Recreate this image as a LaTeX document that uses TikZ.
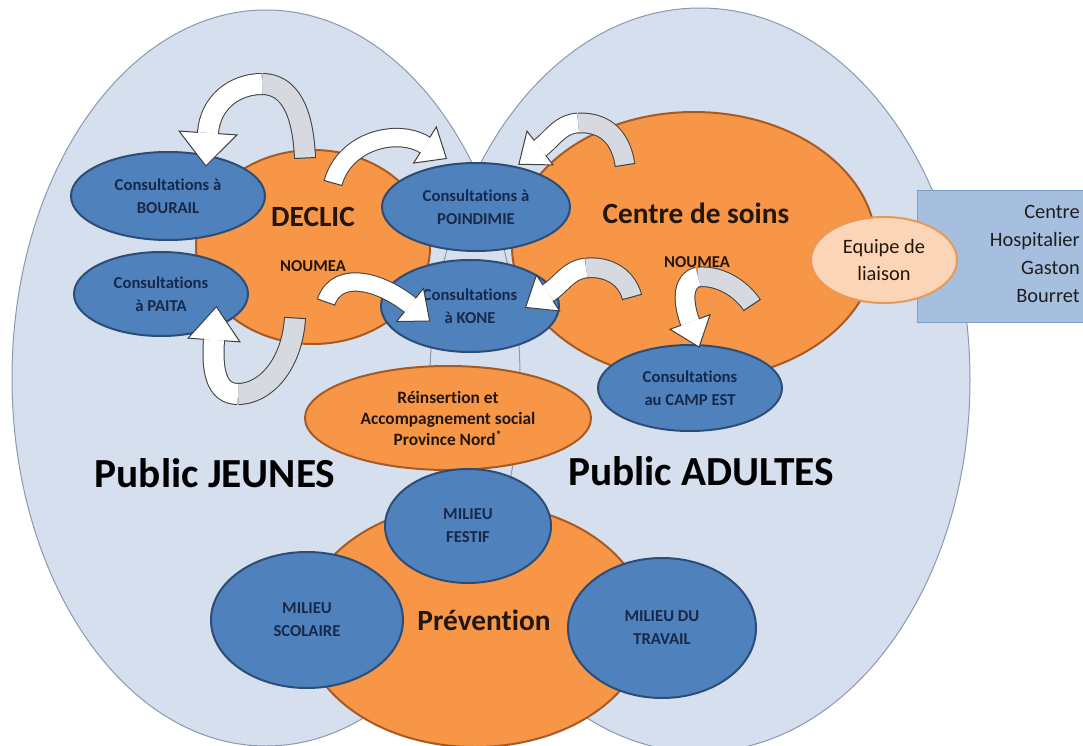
\documentclass[tikz,border=0pt]{standalone}
\usepackage{fontspec}
\setmainfont{Carlito}[Ligatures=NoCommon]
\usetikzlibrary{shapes.geometric,calc}
\definecolor{bigfill}{HTML}{D5DFEE}
\definecolor{bigline}{HTML}{8A99B2}
\definecolor{orfill}{HTML}{F79646}
\definecolor{orline}{HTML}{A85A26}
\definecolor{blfill}{HTML}{4F81BD}
\definecolor{blline}{HTML}{2C4D75}
\definecolor{bltext}{HTML}{17294A}
\definecolor{ortext}{HTML}{23160C}
\definecolor{eqfill}{HTML}{FBD5B5}
\definecolor{eqline}{HTML}{E59A5C}
\definecolor{boxfill}{HTML}{A7BFDE}
\definecolor{boxline}{HTML}{7E9CC8}
\definecolor{boxtext}{HTML}{1E1E1E}
\definecolor{argray}{HTML}{D6DAE0}
\definecolor{arline}{HTML}{3F3F3F}
\newcommand{\myhead}[5]{%
  \fill[white] ($(#1)!#3!90:(#2)$) -- ($(#1)!-#4!(#2)$) -- ($(#1)!#3!-90:(#2)$) -- cycle;
  \draw[headline] ($(#1)!#5!-90:(#2)$) -- ($(#1)!#3!-90:(#2)$) -- ($(#1)!-#4!(#2)$) -- ($(#1)!#3!90:(#2)$) -- ($(#1)!#5!90:(#2)$);}
\newcommand{\mytail}[3]{%
  \draw[headline] ($(#1)!#3!90:(#2)$) -- ($(#1)!#3!-90:(#2)$);}
\begin{document}
\begin{tikzpicture}[x=0.75pt,y=-0.75pt,
  bigell/.style={ellipse, inner sep=0pt, outer sep=0pt, fill=bigfill},
  bigout/.style={draw=bigline, line width=0.75pt},
  orell/.style={ellipse, inner sep=0pt, draw=orline, line width=1.5pt, fill=orfill, text=ortext, align=center, font=\fontsize{13}{15.75}\selectfont\bfseries},
  blell/.style={ellipse, inner sep=0pt, draw=blline, line width=1.5pt, fill=blfill, text=bltext, align=center, font=\fontsize{12.5}{17.25}\selectfont\bfseries},
  sz/.style 2 args={minimum width=#1*1.5pt, minimum height=#2*1.5pt},
  bigtitle/.style={font=\fontsize{31}{36}\selectfont\bfseries, text=black, inner sep=0pt},
  midtitle/.style={font=\fontsize{22}{26}\selectfont\bfseries, text=ortext, inner sep=0pt},
  smalltitle/.style={font=\fontsize{12.5}{15}\selectfont\bfseries, text=ortext, inner sep=0pt},
  backband/.style={draw=arline, line width=0.75pt, double=argray},
  frontband/.style={draw=arline, line width=0.75pt, double=white},
  headline/.style={draw=arline, line width=0.75pt, line join=miter}
]
\useasboundingbox (0,0) rectangle (1083,746);
\fill[white] (0,0) rectangle (1083,746);

% big publics
\node[bigell, sz={254}{368}] (jeunes) at (266,378) {};
\node[bigell, sz={270}{372}] (adultes) at (700,380) {};
\draw[bigout] (266,378) ellipse [x radius=190.5pt, y radius=276pt];
\draw[bigout] (700,380) ellipse [x radius=202.5pt, y radius=279pt];

% hospital box
\node[draw=boxline, fill=boxfill, line width=0.75pt, minimum width=127.5pt, minimum height=99pt, anchor=north west, inner sep=0pt] (chgb) at (917,190) {};
\node[anchor=east, align=right, font=\fontsize{15.3}{20.8}\selectfont, text=boxtext, inner sep=0pt] (chgbtext) at (1080,254) {Centre\\Hospitalier\\Gaston\\Bourret};

% orange structures
\node[orell, sz={117}{97}] (declic) at (313,247) {};
\node[orell, sz={182}{134}] (centre) at (694,246) {};
\node[orell, sz={143}{52}] (reins) at (448,418) {Réinsertion et\\Accompagnement social\\Province Nord\textsuperscript{*}};
\node[orell, sz={172}{122}] (prev) at (475,625) {};

% liaison
\node[ellipse, inner sep=0pt, draw=eqline, fill=eqfill, line width=1.5pt, sz={73}{43}, align=center, font=\fontsize{15.3}{20.8}\selectfont, text=ortext] (equipe) at (884,260) {Equipe de\\liaison};

% blue consultations
\node[blell, sz={97}{44}] (bourail) at (168,196) {Consultations à\\BOURAIL};
\node[blell, sz={87}{42}] (paita) at (161,294) {Consultations\\à PAITA};
\node[blell, sz={94}{44}] (poind) at (476,207) {Consultations à\\POINDIMIE};
\node[blell, sz={89}{46}] (kone) at (470,306) {Consultations\\à KONE};
\node[blell, sz={92}{43}] (campest) at (690,388) {Consultations\\au CAMP EST};
\node[blell, sz={83}{57}] (festif) at (468,526) {MILIEU\\FESTIF};
\node[blell, sz={96}{68}] (scol) at (307,620) {MILIEU\\SCOLAIRE};
\node[blell, sz={94}{70}] (trav) at (662,628) {MILIEU DU\\TRAVAIL};

% titles
\node[bigtitle] (tjeunes) at (215,473) {Public JEUNES};
\node[bigtitle] (tadultes) at (701,471) {Public ADULTES};
\node[midtitle] (tdeclic) at (313,217) {DECLIC};
\node[smalltitle] (tnoum1) at (313,266) {NOUMEA};
\node[midtitle] (tcentre) at (696,213) {Centre de soins};
\node[smalltitle] (tnoum2) at (697,262) {NOUMEA};
\node[midtitle] (tprev) at (484,620) {Prévention};

% arrow 1 : DECLIC -> BOURAIL
\coordinate (a1s) at (305,158); \coordinate (a1c) at (303,112);
\coordinate (a1a) at (262,84); \coordinate (a1d) at (210,103); \coordinate (a1e) at (208,133);
\draw[backband, double distance=15pt] (a1s) .. controls (a1c) and (290,84) .. (a1a);
\draw[frontband, double distance=15pt] (a1a) .. controls (234,84) and (a1d) .. (a1e);
\mytail{a1s}{a1c}{8.2pt}
\myhead{a1e}{a1d}{21.75pt}{24.75pt}{7.5pt}

% arrow 3 : DECLIC -> PAITA
\coordinate (a3s) at (295,318); \coordinate (a3c) at (292,365);
\coordinate (a3a) at (238,394); \coordinate (a3d) at (212,368); \coordinate (a3e) at (214,340);
\draw[backband, double distance=15pt] (a3s) .. controls (a3c) and (265,394) .. (a3a);
\draw[frontband, double distance=15pt] (a3a) .. controls (215,394) and (a3d) .. (a3e);
\mytail{a3s}{a3c}{8.2pt}
\myhead{a3e}{a3d}{19.5pt}{25pt}{7.5pt}

% arrow 2 : DECLIC -> POINDIMIE
\coordinate (a2s) at (333,183); \coordinate (a2c) at (345,140);
\coordinate (a2d) at (398,128); \coordinate (a2e) at (425,145);
\draw[frontband, double distance=13pt] (a2s) .. controls (a2c) and (a2d) .. (a2e);
\mytail{a2s}{a2c}{7.2pt}
\myhead{a2e}{a2d}{16pt}{19pt}{6.5pt}

% arrow 4 : DECLIC -> KONE
\coordinate (a4s) at (326,302); \coordinate (a4c) at (338,268);
\coordinate (a4d) at (383,283); \coordinate (a4e) at (410,305);
\draw[frontband, double distance=13pt] (a4s) .. controls (a4c) and (a4d) .. (a4e);
\mytail{a4s}{a4c}{7.2pt}
\myhead{a4e}{a4d}{16pt}{19pt}{6.5pt}

% arrow 5 : Centre -> POINDIMIE
\coordinate (a5s) at (625,165); \coordinate (a5c) at (620,132);
\coordinate (a5a) at (578,123); \coordinate (a5d) at (553,138); \coordinate (a5e) at (540,148);
\draw[backband, double distance=14pt] (a5s) .. controls (a5c) and (600,122) .. (a5a);
\draw[frontband, double distance=14pt] (a5a) .. controls (560,124) and (a5d) .. (a5e);
\mytail{a5s}{a5c}{7.7pt}
\myhead{a5e}{a5d}{16pt}{20pt}{7pt}

% arrow 6 : Centre -> KONE
\coordinate (a6s) at (632,297); \coordinate (a6c) at (626,275);
\coordinate (a6a) at (586,268); \coordinate (a6d) at (562,284); \coordinate (a6e) at (548,293);
\draw[backband, double distance=14pt] (a6s) .. controls (a6c) and (606,266) .. (a6a);
\draw[frontband, double distance=14pt] (a6a) .. controls (568,270) and (a6d) .. (a6e);
\mytail{a6s}{a6c}{7.7pt}
\myhead{a6e}{a6d}{16pt}{20pt}{7pt}

% arrow 7 : Centre -> CAMP EST
\coordinate (a7s) at (752,305); \coordinate (a7c) at (740,287);
\coordinate (a7a) at (698,277); \coordinate (a7d) at (682,300); \coordinate (a7e) at (690,322);
\draw[backband, double distance=14pt] (a7s) .. controls (a7c) and (718,275) .. (a7a);
\draw[frontband, double distance=14pt] (a7a) .. controls (683,280) and (a7d) .. (a7e);
\mytail{a7s}{a7c}{7.7pt}
\myhead{a7e}{a7d}{16pt}{20pt}{7pt}
\end{tikzpicture}
\end{document}
